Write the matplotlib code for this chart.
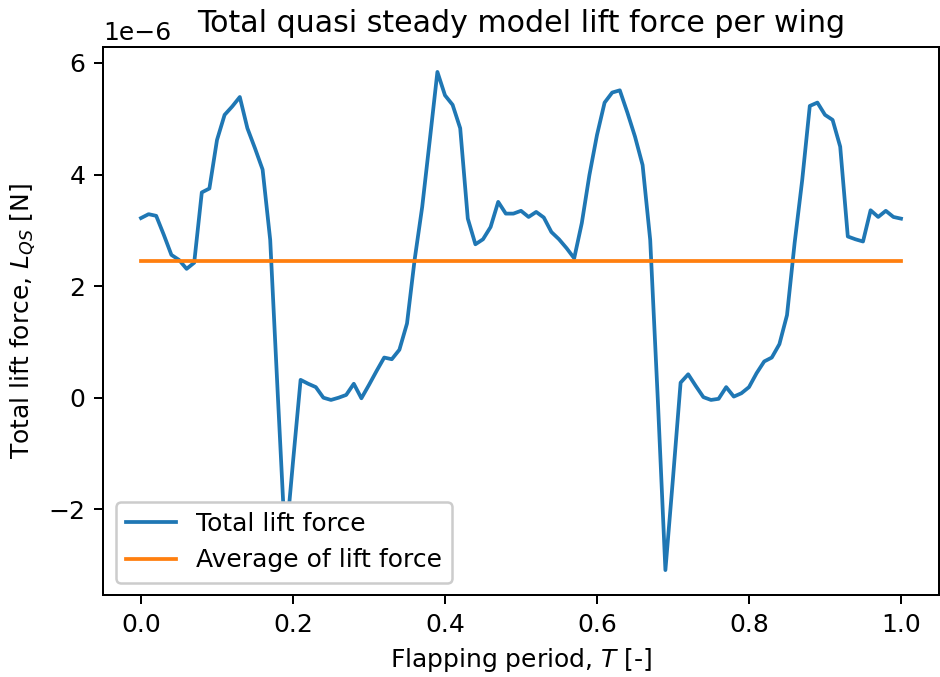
import numpy as np
import matplotlib
matplotlib.use("Agg")
import matplotlib.pyplot as plt

# flapping period, one sample every 0.01
t = np.linspace(0, 1, 101)

# total quasi steady lift force per wing [1e-6 N]
lift = [3.22, 3.29, 3.26, 2.92, 2.56, 2.47, 2.31, 2.42, 3.68, 3.75,
        4.62, 5.07, 5.22, 5.39, 4.83, 4.47, 4.09, 2.83, 0.05, -2.67,
        -1.15, 0.32, 0.25, 0.19, 0.00, -0.04, 0.00, 0.05, 0.25, -0.01,
        0.23, 0.48, 0.72, 0.69, 0.86, 1.33, 2.47, 3.42, 4.62, 5.84,
        5.42, 5.25, 4.83, 3.21, 2.75, 2.84, 3.06, 3.51, 3.30, 3.30,
        3.35, 3.24, 3.33, 3.23, 2.97, 2.84, 2.68, 2.50, 3.13, 3.99,
        4.71, 5.29, 5.47, 5.51, 5.11, 4.68, 4.17, 2.83, -0.03, -3.09,
        -1.44, 0.27, 0.42, 0.21, 0.01, -0.04, -0.02, 0.19, 0.02, 0.08,
        0.19, 0.44, 0.65, 0.72, 0.96, 1.48, 2.77, 3.90, 5.23, 5.29,
        5.07, 4.98, 4.50, 2.89, 2.84, 2.80, 3.36, 3.24, 3.35, 3.24,
        3.21]
lift = np.array(lift) * 1e-6

avg_lift = 2.455e-6

dpi = 180
fig, ax = plt.subplots(figsize=(940 / dpi, 677 / dpi), dpi=dpi)
fig.subplots_adjust(left=103 / 940, right=939 / 940, top=1 - 47 / 677, bottom=1 - 595 / 677)

ax.plot(t, lift, label='Total lift force')
ax.plot(t, np.full_like(t, avg_lift), label='Average of lift force')

ax.set_title('Total quasi steady model lift force per wing')
ax.set_xlabel('Flapping period, $T$ [-]')
ax.set_ylabel('Total lift force, $L_{QS}$ [N]')
ax.legend(loc='lower left', framealpha=1)

plt.savefig('out.png', dpi=dpi)
